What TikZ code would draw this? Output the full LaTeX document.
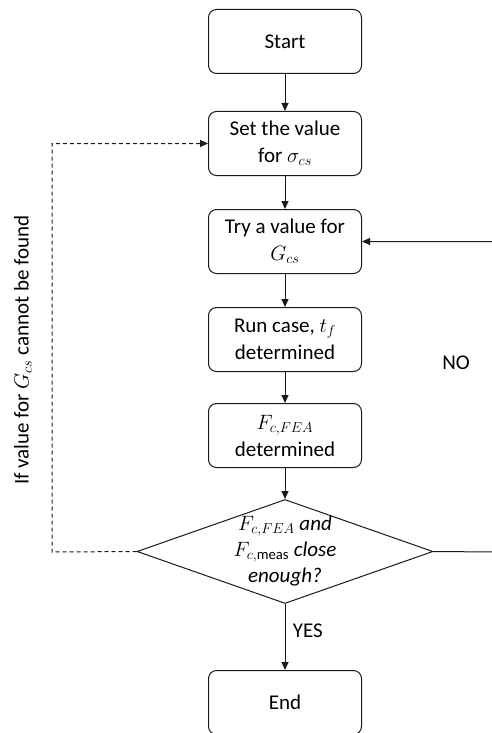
\documentclass[tikz,border=0pt]{standalone}
\usepackage{fontspec}
\setmainfont{Carlito}
\usepackage{tikz}
\usetikzlibrary{arrows.meta,positioning,shapes.geometric}
\definecolor{edge}{HTML}{1A1A1A}
\tikzset{
  box/.style     ={rounded corners=8pt,draw=edge,line width=1pt,fill=white,
                   minimum width=153pt,minimum height=64pt,inner sep=2pt,align=center},
  decision/.style={diamond,draw=edge,line width=1pt,fill=white,
                   minimum width=296pt,minimum height=104pt,inner sep=0pt},
  flow/.style    ={-{Triangle[length=8pt,width=7pt]},line width=1pt,draw=edge},
  giveup/.style  ={-{Triangle[length=8pt,width=7pt]},line width=1pt,draw=edge,
                   dash pattern=on 4pt off 3pt}
}

\begin{document}
\begin{tikzpicture}[x=1pt,y=-1pt,node distance=33pt,
    every node/.style={font=\fontsize{21}{27}\selectfont}]
        \useasboundingbox (0,0) rectangle (491,733);
        \node[box] (start) at (285,41.5) {Start};
        \node[box,below=37pt of start] (sigma) {Set the value\\for $\sigma_{cs}$};
        \node[box,below=of sigma] (guess) {Try a value for\\$G_{cs}$};
        \node[box,below=of guess] (run) {Run case, $t_f$\\determined};
        \node[box,below=31pt of run] (force) {$F_{c,FEA}$\\determined};
        \node[decision,below=31pt of force] (check)
          {\makebox[0pt]{\smash{\raisebox{-5pt}{\begin{tabular}{@{}c@{}}
            $F_{c,FEA}$ \textit{and}\\[-1pt]
            $F_{c,\mathrm{meas}}$ \textit{close}\\[-1pt]
            \textit{enough?}\end{tabular}}}}};
        \node[box,below=66pt of check] (stop) {End};
        \draw[flow] (start) -- (sigma);
        \draw[flow] (sigma) -- (guess);
        \draw[flow] (guess) -- (run);
        \draw[flow] (run) -- (force);
        \draw[flow] (force) -- (check);
        \draw[flow] (check) -- node[right=4pt,pos=0.4] (yes) {YES} (stop);
        % NO branch runs out past the right edge
        \coordinate (noturn) at (497,552);
        \draw[flow] (check.east) -- (noturn) |- (guess.east);
        \node (no) at (456,363) {NO};
        % back to sigma when no G_cs works
        \coordinate (giveupturn) at (52,552);
        \draw[giveup] (check.west) -- (giveupturn) |- (sigma.west);
        \node[rotate=90] (note) at (23,350) {If value for $G_{cs}$ cannot be found};
      \end{tikzpicture}
\end{document}
